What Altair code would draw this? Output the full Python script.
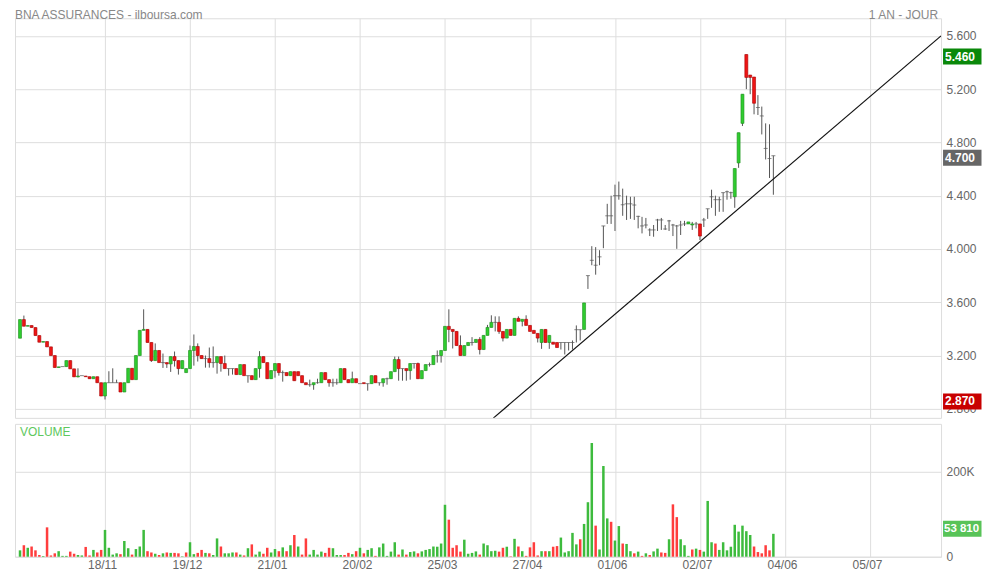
import json
import altair as alt
import pandas as pd

TITLE = "BNA ASSURANCES - ilboursa.com"
PERIOD = "1 AN - JOUR"

open_ = [
    3.33, 3.47, 3.42, 3.425, 3.41, 3.35, 3.30, 3.305, 3.265, 3.20,
    3.11, 3.117, 3.117, 3.162, 3.10, 3.04, 3.049, 3.046, 3.041, 3.026,
    3.041, 2.996, 2.896, 2.996, 2.996, 2.996, 2.996, 2.926, 2.996, 3.104,
    3.019, 3.20, 3.389, 3.396, 3.298, 3.162, 3.238, 3.147, 3.147, 3.137,
    3.192, 3.162, 3.102, 3.072, 3.102, 3.238, 3.268, 3.20, 3.177, 3.177,
    3.147, 3.147, 3.192, 3.14, 3.102, 3.102, 3.102, 3.057, 3.132, 3.049,
    3.049, 3.019, 3.102, 3.192, 3.147, 3.026, 3.087, 3.14, 3.072, 3.072,
    3.049, 3.079, 3.079, 3.049, 2.996, 2.981, 2.981, 2.996, 2.996, 3.072,
    3.019, 2.996, 2.996, 2.996, 3.102, 3.019, 2.996, 3.026, 2.989, 2.996,
    2.989, 2.989, 3.049, 2.996, 2.996, 3.026, 3.026, 3.079, 3.17, 3.102,
    3.102, 3.087, 3.14, 3.14, 3.026, 3.087, 3.132, 3.132, 3.20, 3.20,
    3.238, 3.419, 3.396, 3.381, 3.275, 3.20, 3.275, 3.298, 3.298, 3.321,
    3.245, 3.351, 3.411, 3.449, 3.449, 3.381, 3.331, 3.396, 3.351, 3.479,
    3.457, 3.472, 3.426, 3.389, 3.366, 3.298, 3.396, 3.298, 3.30, 3.298,
    3.298, 3.298, 3.298, 3.298, 3.394, 3.394, 3.396, 3.80, 3.915, 3.878,
    3.941, 4.173, 4.249, 4.249, 4.40, 4.40, 4.332, 4.339, 4.339, 4.33,
    4.245, 4.173, 4.18, 4.143, 4.143, 4.218, 4.218, 4.15, 4.211, 4.18,
    4.173, 4.18, 4.188, 4.188, 4.18, 4.188, 4.188, 4.218, 4.302, 4.392,
    4.37, 4.37, 4.423, 4.43, 4.423, 4.392, 4.646, 4.943, 5.46, 5.306,
    5.291, 5.062, 4.999, 4.755, 4.679, 4.70,
]
high = [
    3.47, 3.50, 3.425, 3.425, 3.41, 3.35, 3.305, 3.305, 3.265, 3.20,
    3.115, 3.117, 3.162, 3.162, 3.10, 3.104, 3.049, 3.046, 3.041, 3.041,
    3.041, 2.996, 2.996, 3.082, 3.104, 3.019, 2.996, 2.996, 3.104, 3.104,
    3.20, 3.389, 3.547, 3.396, 3.298, 3.291, 3.238, 3.215, 3.147, 3.192,
    3.23, 3.162, 3.162, 3.102, 3.275, 3.358, 3.291, 3.20, 3.20, 3.26,
    3.268, 3.192, 3.192, 3.20, 3.102, 3.102, 3.102, 3.132, 3.132, 3.049,
    3.049, 3.102, 3.233, 3.192, 3.147, 3.087, 3.14, 3.14, 3.087, 3.072,
    3.079, 3.079, 3.079, 3.049, 2.996, 3.019, 2.996, 3.026, 3.072, 3.072,
    3.019, 3.026, 3.026, 3.102, 3.102, 3.019, 3.079, 3.026, 2.989, 2.996,
    2.989, 3.049, 3.049, 2.996, 3.026, 3.034, 3.079, 3.192, 3.192, 3.102,
    3.102, 3.14, 3.14, 3.147, 3.087, 3.132, 3.147, 3.20, 3.238, 3.238,
    3.419, 3.547, 3.396, 3.381, 3.351, 3.275, 3.298, 3.338, 3.321, 3.338,
    3.351, 3.43, 3.502, 3.494, 3.494, 3.381, 3.396, 3.396, 3.479, 3.494,
    3.472, 3.502, 3.426, 3.389, 3.366, 3.396, 3.396, 3.351, 3.30, 3.298,
    3.298, 3.298, 3.298, 3.313, 3.426, 3.394, 3.595, 3.80, 4.021, 4.014,
    3.991, 4.173, 4.339, 4.40, 4.483, 4.506, 4.453, 4.40, 4.392, 4.392,
    4.249, 4.241, 4.233, 4.155, 4.18, 4.226, 4.233, 4.18, 4.218, 4.188,
    4.18, 4.211, 4.211, 4.203, 4.203, 4.203, 4.188, 4.233, 4.302, 4.445,
    4.40, 4.392, 4.423, 4.438, 4.43, 4.604, 4.873, 5.162, 5.46, 5.306,
    5.291, 5.155, 5.069, 4.943, 4.936, 4.70,
]
low = [
    3.33, 3.42, 3.42, 3.41, 3.35, 3.30, 3.30, 3.265, 3.20, 3.11,
    3.11, 3.117, 3.117, 3.10, 3.04, 3.036, 3.049, 3.041, 3.026, 3.026,
    2.996, 2.896, 2.87, 2.996, 2.996, 2.996, 2.926, 2.926, 2.996, 3.019,
    3.019, 3.20, 3.389, 3.298, 3.152, 3.162, 3.147, 3.107, 3.107, 3.077,
    3.117, 3.057, 3.102, 3.072, 3.102, 3.124, 3.155, 3.177, 3.109, 3.109,
    3.109, 3.064, 3.079, 3.102, 3.049, 3.057, 3.057, 3.057, 3.049, 2.996,
    3.019, 3.019, 3.034, 3.147, 3.026, 3.026, 3.034, 3.049, 3.004, 3.049,
    3.049, 3.011, 3.049, 2.996, 2.981, 2.966, 2.943, 2.989, 2.996, 3.019,
    2.966, 2.966, 2.981, 2.996, 3.019, 2.996, 2.996, 2.996, 2.989, 2.989,
    2.936, 2.989, 2.996, 2.974, 2.966, 2.981, 3.026, 3.079, 3.011, 3.011,
    3.011, 3.019, 3.102, 3.026, 3.026, 3.087, 3.117, 3.132, 3.147, 3.147,
    3.238, 3.30, 3.253, 3.275, 3.20, 3.20, 3.275, 3.275, 3.298, 3.208,
    3.245, 3.351, 3.411, 3.381, 3.363, 3.306, 3.331, 3.351, 3.351, 3.457,
    3.419, 3.426, 3.381, 3.366, 3.298, 3.25, 3.298, 3.25, 3.285, 3.26,
    3.245, 3.208, 3.238, 3.245, 3.298, 3.313, 3.396, 3.70, 3.878, 3.807,
    3.878, 4.006, 4.188, 4.188, 4.135, 4.37, 4.249, 4.218, 4.226, 4.218,
    4.155, 4.117, 4.155, 4.097, 4.092, 4.135, 4.143, 4.143, 4.135, 4.097,
    4.001, 4.105, 4.173, 4.188, 4.143, 4.155, 4.067, 4.165, 4.226, 4.309,
    4.249, 4.279, 4.279, 4.37, 4.377, 4.309, 4.609, 4.923, 5.20, 5.162,
    5.011, 5.006, 4.86, 4.672, 4.533, 4.407,
]
close = [
    3.47, 3.42, 3.425, 3.41, 3.35, 3.30, 3.305, 3.265, 3.20, 3.11,
    3.115, 3.117, 3.162, 3.10, 3.04, 3.046, 3.049, 3.041, 3.026, 3.041,
    2.996, 2.896, 2.996, 2.996, 2.996, 2.996, 2.926, 2.996, 3.104, 3.019,
    3.20, 3.389, 3.396, 3.298, 3.162, 3.238, 3.147, 3.147, 3.137, 3.192,
    3.162, 3.102, 3.162, 3.102, 3.238, 3.268, 3.20, 3.177, 3.177, 3.147,
    3.147, 3.192, 3.14, 3.102, 3.102, 3.102, 3.057, 3.132, 3.049, 3.049,
    3.019, 3.102, 3.192, 3.147, 3.026, 3.087, 3.14, 3.072, 3.072, 3.049,
    3.079, 3.011, 3.049, 2.996, 2.981, 2.981, 2.996, 2.996, 3.072, 3.019,
    2.996, 2.996, 2.996, 3.102, 3.019, 2.996, 3.026, 2.996, 2.989, 2.989,
    2.989, 3.049, 2.996, 2.996, 3.026, 3.026, 3.079, 3.17, 3.102, 3.102,
    3.087, 3.14, 3.14, 3.026, 3.087, 3.132, 3.132, 3.20, 3.20, 3.238,
    3.419, 3.396, 3.381, 3.275, 3.20, 3.275, 3.298, 3.298, 3.321, 3.245,
    3.351, 3.411, 3.449, 3.449, 3.381, 3.331, 3.396, 3.351, 3.479, 3.457,
    3.472, 3.426, 3.381, 3.366, 3.331, 3.396, 3.298, 3.351, 3.285, 3.26,
    3.298, 3.298, 3.298, 3.298, 3.394, 3.394, 3.595, 3.80, 3.915, 3.878,
    3.941, 4.173, 4.249, 4.249, 4.40, 4.40, 4.332, 4.339, 4.339, 4.33,
    4.245, 4.173, 4.18, 4.143, 4.143, 4.218, 4.218, 4.15, 4.211, 4.18,
    4.173, 4.18, 4.188, 4.203, 4.188, 4.188, 4.097, 4.218, 4.302, 4.392,
    4.37, 4.37, 4.423, 4.43, 4.423, 4.604, 4.873, 5.162, 5.288, 5.288,
    5.094, 5.062, 4.999, 4.755, 4.679, 4.70,
]
volume = [
    15, 27, 21, 24, 15, 4, 1.5, 69, 3, 8,
    13, 2, 2, 12, 7, 4, 3, 23, 3, 16,
    10, 16, 63, 21, 5, 8, 6, 37, 20, 5,
    18, 24, 63, 13, 10, 7, 4, 8, 10, 9,
    9, 8, 1, 10, 34, 6, 9, 16, 9, 8,
    4, 43, 24, 8, 8, 10, 10, 5, 3, 20,
    29, 5, 12, 7, 21, 10, 18, 13, 22, 13,
    27, 51, 24, 5, 43, 5, 16, 5, 12, 9,
    21, 20, 4, 4, 4, 9, 6, 13, 21, 8,
    16, 20, 2, 22, 31, 2, 12, 34, 5, 17,
    5, 11, 12.5, 8, 12.5, 16, 18, 24, 23.5, 31,
    122, 87, 21, 27, 12, 40, 7, 9, 12.5, 5,
    31, 27, 13, 14, 12, 21, 23.5, 1, 42, 24,
    13, 2, 22, 34, 3, 13, 13, 13, 23.5, 25,
    45, 10, 13, 56, 29, 41, 77, 128, 267, 73,
    17, 213, 90, 82, 38, 72, 31, 30, 13, 8,
    12, 2, 8, 4, 12.5, 19, 10, 9, 41, 123,
    93, 41, 27, 2, 17, 19, 16, 12, 131, 34,
    31, 16, 34, 15, 23.5, 75, 59, 73, 60, 51,
    24, 11, 8, 27, 15, 53.81,
]
vol_up = [
    1, 0, 1, 0, 0, 0, 1, 0, 0, 0,
    1, 1, 1, 0, 0, 1, 1, 0, 0, 1,
    0, 0, 1, 1, 1, 1, 0, 1, 1, 0,
    1, 1, 1, 0, 0, 1, 0, 1, 0, 1,
    0, 0, 1, 0, 1, 1, 0, 0, 1, 0,
    1, 1, 0, 1, 1, 1, 0, 1, 0, 1,
    0, 1, 1, 0, 0, 1, 1, 0, 1, 0,
    1, 0, 1, 0, 0, 1, 1, 1, 1, 0,
    0, 1, 1, 1, 0, 0, 1, 0, 1, 0,
    1, 1, 0, 1, 1, 1, 1, 1, 0, 1,
    0, 1, 1, 0, 1, 1, 1, 1, 1, 1,
    1, 0, 0, 0, 0, 1, 1, 1, 1, 0,
    1, 1, 1, 1, 0, 0, 1, 0, 1, 0,
    1, 0, 0, 0, 0, 1, 0, 1, 0, 0,
    1, 1, 1, 1, 1, 0, 1, 1, 1, 0,
    1, 1, 1, 0, 1, 1, 0, 1, 1, 0,
    1, 0, 1, 0, 1, 1, 0, 0, 1, 0,
    0, 1, 1, 1, 0, 1, 0, 1, 1, 1,
    0, 1, 1, 1, 1, 1, 1, 1, 1, 1,
    0, 0, 0, 0, 0, 1,
]

tick_idx = [23, 45, 67, 89, 111, 133, 155, 177, 199, 221]
tick_labels = ["18/11", "19/12", "21/01", "20/02", "25/03", "27/04",
               "01/06", "02/07", "04/06", "05/07"]
price_ticks = [2.8, 3.2, 3.6, 4.0, 4.4, 4.8, 5.2, 5.6]
vol_ticks = [0, 200000]

# hand-drawn support line (two anchor points, in bar index / price units)
trend_idx = [123.5, 239.4]
trend_val = [2.73, 5.6]

n = len(close)
assert all(len(a) == n for a in (open_, high, low, volume, vol_up)), "length"

X_DOM = [-0.3, 239.4]
Y_DOM = [2.732, 5.732]
V_DOM = [0, 312000]
W = 927
BADGE_W = 38.5

FONT = "Liberation Sans"
GREEN = "#2fcc2f"
GREEN_S = "#1c8f1c"
RED = "#ee1515"
RED_S = "#a80000"

def direction(o, c):
    if c > o:
        return "up"
    if c < o:
        return "down"
    return "flat"

candles = pd.DataFrame({
    "i": list(range(1, n + 1)),
    "o": open_, "h": high, "l": low, "c": close,
})
candles["dir"] = [direction(o, c) for o, c in zip(open_, close)]
vols = pd.DataFrame({
    "i": list(range(1, n + 1)),
    "v": [v * 1000 for v in volume],
    "up": ["up" if u else "down" for u in vol_up],
})
trend = pd.DataFrame({"i": trend_idx, "p": trend_val})

hi_v = max(high)
lo_v = min(low)
last_v = close[-1]
badges = pd.DataFrame({
    "p": [hi_v, last_v, lo_v],
    "t": [f"{hi_v:.3f}", f"{last_v:.3f}", f"{lo_v:.3f}"],
    "col": ["#0a880a", "#666666", "#c80000"],
})
last_vol = volume[-1] * 1000
vbadge = pd.DataFrame({
    "v": [last_vol],
    "t": [f"{int(round(last_vol)):,}".replace(",", " ")],
})

xs = alt.Scale(domain=X_DOM, nice=False, zero=False, padding=0)
ys = alt.Scale(domain=Y_DOM, nice=False, zero=False, padding=0)
vs = alt.Scale(domain=V_DOM, nice=False, padding=0)

x_grid_axis = alt.Axis(values=tick_idx, labels=False, ticks=False, domain=False,
                       grid=True, gridColor="#dedede", title=None)
y_price_axis = alt.Axis(orient="right", values=price_ticks, format=".3f",
                        ticks=False, domain=False, grid=True, gridColor="#dedede",
                        labelPadding=5, labelColor="#666", labelFontSize=12,
                        labelFont=FONT, title=None, zindex=0)

base = alt.Chart(candles)
X = alt.X("i:Q", scale=xs, axis=x_grid_axis)

wicks = base.mark_rule(color="#555555", strokeWidth=1).encode(
    x=X,
    y=alt.Y("l:Q", scale=ys, axis=y_price_axis),
    y2="h:Q",
)
bodies = base.transform_filter("datum.dir != 'flat'").mark_bar(
    size=3, strokeWidth=0.6
).encode(
    x=X,
    y=alt.Y("o:Q", scale=ys),
    y2="c:Q",
    fill=alt.Fill("dir:N", scale=alt.Scale(domain=["up", "down"], range=[GREEN, RED]), legend=None),
    stroke=alt.Stroke("dir:N", scale=alt.Scale(domain=["up", "down"], range=[GREEN_S, RED_S]), legend=None),
)
dojis = base.transform_filter("datum.dir == 'flat'").mark_tick(
    orient="horizontal", size=4, thickness=1, color="#555555"
).encode(x=X, y=alt.Y("c:Q", scale=ys))

trend_line = alt.Chart(trend).mark_line(color="#111111", strokeWidth=1.2, clip=True).encode(
    x=alt.X("i:Q", scale=xs), y=alt.Y("p:Q", scale=ys)
)

badge_rect = alt.Chart(badges).mark_tick(
    orient="horizontal", size=BADGE_W, thickness=16, opacity=1, yOffset=2
).encode(
    x=alt.value(W + 2 + BADGE_W / 2),
    y=alt.Y("p:Q", scale=ys),
    color=alt.Color("col:N", scale=None),
)
badge_text = alt.Chart(badges).mark_text(
    align="left", baseline="middle", color="white", fontWeight="bold",
    fontSize=12, font=FONT, dy=2
).encode(x=alt.value(W + 4), y=alt.Y("p:Q", scale=ys), text="t:N")

title_df = pd.DataFrame({"t": [TITLE], "r": [PERIOD]})
title_left = alt.Chart(title_df).mark_text(
    align="left", baseline="middle", fontSize=12, font=FONT, color="#888888"
).encode(x=alt.value(0), y=alt.value(-3.2), text="t:N")
title_right = alt.Chart(title_df).mark_text(
    align="right", baseline="middle", fontSize=12, font=FONT, color="#888888"
).encode(x=alt.value(W - 3), y=alt.value(-3.2), text="r:N")

price = alt.layer(
    wicks, trend_line, bodies, dojis, badge_rect, badge_text, title_left, title_right
).properties(width=W, height=400)

label_expr = f"{json.dumps(tick_labels)}[indexof({json.dumps(tick_idx)}, datum.value)]"
vol_x_axis = alt.Axis(values=tick_idx, labelExpr=label_expr, ticks=False, domain=False,
                      grid=True, gridColor="#dedede", labelColor="#666",
                      labelFontSize=12, labelFont=FONT, labelPadding=3,
                      labelOffset=-3, title=None)
vol_y_axis = alt.Axis(orient="right", values=vol_ticks,
                      labelExpr="datum.value == 0 ? '0' : format(datum.value / 1000, 'd') + 'K'",
                      ticks=False, domain=False, grid=True, gridColor="#dedede",
                      labelColor="#666", labelFontSize=12, labelFont=FONT,
                      labelPadding=5, title=None, zindex=0)

vol_bars = alt.Chart(vols).mark_bar(size=2.5).encode(
    x=alt.X("i:Q", scale=xs, axis=vol_x_axis),
    y=alt.Y("v:Q", scale=vs, axis=vol_y_axis),
    color=alt.Color("up:N", scale=alt.Scale(domain=["up", "down"], range=["#3dbb3d", "#ff3d3d"]), legend=None),
)
vb_rect = alt.Chart(vbadge).mark_tick(
    orient="horizontal", size=BADGE_W, thickness=16, color="#11aa11", yOffset=-5
).encode(x=alt.value(W + 2 + BADGE_W / 2), y=alt.Y("v:Q", scale=vs))
vb_text = alt.Chart(vbadge).mark_text(
    align="left", baseline="middle", color="white", fontWeight="bold",
    fontSize=11.5, font=FONT, dy=-5
).encode(x=alt.value(W + 3), y=alt.Y("v:Q", scale=vs), text="t:N")
vol_label = alt.Chart(pd.DataFrame({"t": ["VOLUME"]})).mark_text(
    align="left", baseline="middle", fontSize=12, font=FONT, color="#5ec85e"
).encode(x=alt.value(5), y=alt.value(8), text="t:N")

vol = alt.layer(vol_bars, vb_rect, vb_text, vol_label).properties(width=W, height=133)

chart = alt.vconcat(price, vol, spacing=4).properties(
    padding={"left": 6, "top": 0, "right": 0, "bottom": -1}
).configure_view(stroke="#d8d8d8").configure(font=FONT)

chart.save("out.html", embed_options={"renderer": "svg", "actions": False})
